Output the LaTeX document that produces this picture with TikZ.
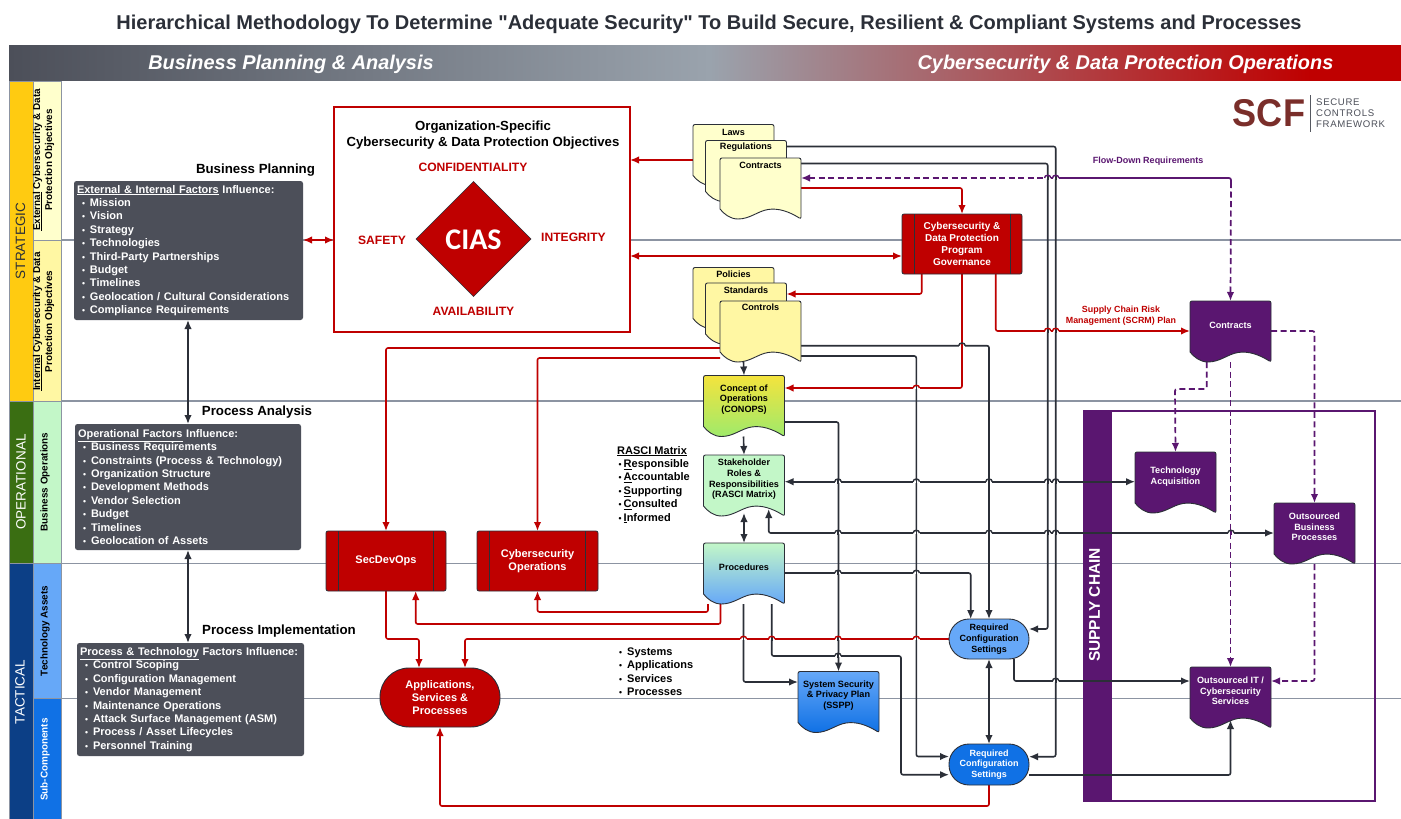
\documentclass[tikz,border=0pt]{standalone}
\usepackage{fontspec}
\setmainfont{Liberation Sans}
\newfontfamily\ciasfont{Carlito}
\usetikzlibrary{arrows.meta,shapes.geometric,calc}
\definecolor{cred}{HTML}{BF0000}
\definecolor{cdark}{HTML}{2B2F38}
\definecolor{cslate}{HTML}{4C4F59}
\definecolor{cpurple}{HTML}{5A1670}
\definecolor{cgrid}{HTML}{8C94A2}
\definecolor{cmid}{HTML}{9AA3AD}
\definecolor{cstrat}{HTML}{FFCB11}
\definecolor{coper}{HTML}{3A6E12}
\definecolor{ctact}{HTML}{0C3F86}
\definecolor{cy1}{HTML}{FFFFCC}
\definecolor{cy2}{HTML}{FFF7A3}
\definecolor{cg1}{HTML}{C3F7C8}
\definecolor{cb1}{HTML}{66A8F8}
\definecolor{cb2}{HTML}{1071E5}
\definecolor{clogo}{HTML}{7A2E2A}
\definecolor{cyel}{HTML}{F4E33D}
\definecolor{cgrn}{HTML}{9FEA6B}
\pgfdeclarelayer{bg}\pgfdeclarelayer{conn}
\pgfsetlayers{bg,conn,main}
\newcommand{\fsz}[2]{\fontsize{#1}{#2}\selectfont}
\newcommand{\itm}[1]{\hspace*{5pt}\makebox[8pt][l]{\fontsize{8.5}{7}\selectfont •}#1}
\newcommand{\bu}[1]{\makebox[#1pt][l]{\fontsize{8.5}{7}\selectfont •}}
\newcommand{\sq}{\XeTeXglyph\XeTeXcharglyph"22 }
\newcommand{\docshape}[6]{%
  \begin{scope}[shift={(#2,#3)}]
    \path[draw=cdark,line width=.9pt,#4,rounded corners=2pt] (0,51) -- (0,0) -- (81,0) -- (81,61)[sharp corners] .. controls (68,53) and (58,50) .. (48,51.5) .. controls (38,53) and (30,61) .. (18,61) .. controls (10,61) and (4,56) .. (0,51) -- cycle;
    \node[docanchor] (#1) at (40.5,30.5) {};
    \node[doctext] (#1-t) at (40.5,#5) {#6};
  \end{scope}}
\newcommand{\procbox}[6]{%
  \node[procnode,minimum width=#4pt] (#1) at (#2,#3) {#5};
  \draw[cdark,line width=1pt] ([xshift=#6pt]#1.north west) -- ([xshift=#6pt]#1.south west);
  \draw[cdark,line width=1pt] ([xshift=-#6pt]#1.north east) -- ([xshift=-#6pt]#1.south east);}
\newcommand{\hop}[4]{%
  \draw[white,line width=2.4pt] (#1-3.2,#2) -- (#1+3.2,#2);
  \draw[#4,line width=1.6pt] (#1,#2-2) -- (#1,#2+2);
  \draw[#3,line width=1.4pt] (#1-3.2,#2) .. controls (#1-3.2,#2-3.6) and (#1+3.2,#2-3.6) .. (#1+3.2,#2);}
\tikzset{
  >={Latex[length=9pt,width=7.5pt]},
  docanchor/.style={inner sep=0pt,outer sep=0pt,minimum width=81pt,minimum height=61pt},
  doctext/.style={inner sep=0pt,align=center,font=\bfseries\fsz{9.1}{10.7}},
  procnode/.style={draw=cdark,line width=.8pt,fill=cred,rounded corners=2pt,minimum height=60pt,inner sep=0pt,outer sep=0pt,align=center,text=white,font=\bfseries\fsz{11}{13.4}},
  termnode/.style={draw=cdark,line width=.9pt,inner sep=0pt,outer sep=0pt,align=center,font=\bfseries\fsz{9}{10.7}},
  factor/.style={draw=none,fill=cslate,rounded corners=2.5pt,inner sep=0pt,outer sep=0pt,text=white,align=left,font=\bfseries\fsz{11}{13.4}},
  band/.style={draw=cgrid,line width=.7pt},
  bandtext/.style={rotate=90,inner sep=0pt,align=center},
  rl/.style={cred,line width=1.6pt,rounded corners=2pt},
  dl/.style={cdark,line width=1.6pt,rounded corners=2pt},
  pl/.style={cpurple,line width=1.7pt,rounded corners=2pt},
  pd/.style={pl,dash pattern=on 6pt off 3.5pt},
  gridline/.style={cgrid,line width=1.2pt},
  lab/.style={inner sep=0pt,font=\bfseries\fsz{13.3}{15}},
  redlab/.style={inner sep=0pt,text=cred,font=\bfseries\fsz{12.1}{14}},
}
\begin{document}
\begin{tikzpicture}[x=1pt,y=-1pt]
\useasboundingbox (0,0) rectangle (1401,819);
\node[inner sep=0pt,text=cdark,font=\bfseries\fsz{20}{22}] (title) at (709,24) {Hierarchical Methodology To Determine \sq Adequate Security\sq{} To Build Secure, Resilient \& Compliant Systems and Processes};

\begin{pgfonlayer}{bg}
\fill[white] (0,0) rectangle (1401,819);
% header
\shade[left color=cslate,right color=cmid] (9,45) rectangle (710,80.5);
\shade[left color=cmid,right color=cred] (709.5,45) rectangle (1310,80.5);
\fill[cred] (1309.5,45) rectangle (1401,80.5);
% grid
\draw[gridline] (61,240) -- (1401,240);
\draw[gridline] (61,401) -- (1401,401);
\draw[gridline,line width=1pt] (61,563) -- (1401,563);
\draw[gridline,line width=1pt] (61,698.5) -- (1401,698.5);
% bands
\filldraw[band,fill=cstrat] (9,81) rectangle (33,401);
\filldraw[band,fill=cy1] (33,81) rectangle (61,240);
\filldraw[band,fill=cy2] (33,240) rectangle (61,401);
\filldraw[band,fill=coper] (9,401) rectangle (33,563);
\filldraw[band,fill=cg1] (33,401) rectangle (61,563);
\filldraw[band,fill=ctact] (9,563) rectangle (33,819.5);
\filldraw[band,fill=cb1] (33,563) rectangle (61,698.5);
\filldraw[band,fill=cb2] (33,698.5) rectangle (61,819.5);
% supply chain frame
\fill[cpurple] (1084,411) rectangle (1112,801);
\draw[cpurple,line width=2pt] (1084,411) rectangle (1375,801);
\end{pgfonlayer}

% header text
\node[inner sep=0pt,text=white,font=\bfseries\itshape\fsz{19.9}{22}] (hdrL) at (291,64) {Business Planning \& Analysis};
\node[inner sep=0pt,text=white,font=\bfseries\itshape\fsz{19.9}{22}] (hdrR) at (1125.5,64) {Cybersecurity \& Data Protection Operations};

% band text
\node[bandtext,text=cdark,font=\fsz{13.5}{16}] (tStrat) at (20.5,241) {STRATEGIC};
\node[bandtext,text=white,font=\fsz{13.5}{16}] (tOper) at (21,482) {OPERATIONAL};
\node[bandtext,text=white,font=\fsz{13.5}{16}] (tTact) at (20,692) {TACTICAL};
\node[bandtext,font=\bfseries\fsz{9.9}{12}] (tExt) at (43.5,160) {\underline{External} Cybersecurity \& Data\\Protection Objectives};
\node[bandtext,font=\bfseries\fsz{9.9}{12}] (tInt) at (43.5,321.5) {\underline{Internal} Cybersecurity \& Data\\Protection Objectives};
\node[bandtext,font=\bfseries\fsz{9.9}{12}] (tBus) at (45,482) {Business Operations};
\node[bandtext,font=\bfseries\fsz{9.9}{12}] (tTec) at (45,631) {Technology Assets};
\node[bandtext,text=white,font=\bfseries\fsz{9.9}{12}] (tSub) at (45,759.5) {Sub-Components};

% section titles
\node[lab] (lBP) at (255.5,170) {Business Planning};
\node[lab] (lPA) at (257,412.5) {Process Analysis};
\node[lab] (lPI) at (279,631.5) {Process Implementation};

% factor boxes
\node[factor,minimum width=229pt,minimum height=139pt,text width=223pt] (f1) at (188.5,250.5) {%
\underline{External \& Internal Factors} Influence:\\\itm{Mission}\\\itm{Vision}\\\itm{Strategy}\\\itm{Technologies}\\\itm{Third-Party Partnerships}\\\itm{Budget}\\\itm{Timelines}\\\itm{Geolocation / Cultural Considerations}\\\itm{Compliance Requirements}};
\node[factor,minimum width=226pt,minimum height=126pt,text width=220pt] (f2) at (188,487) {%
\underline{Operational Factors} Influence:\\\itm{Business Requirements}\\\itm{Constraints (Process \& Technology)}\\\itm{Organization Structure}\\\itm{Development Methods}\\\itm{Vendor Selection}\\\itm{Budget}\\\itm{Timelines}\\\itm{Geolocation of Assets}};
\node[factor,minimum width=227pt,minimum height=113pt,text width=221pt] (f3) at (190.5,699.5) {%
\underline{Process \& Technology} Factors Influence:\\\itm{Control Scoping}\\\itm{Configuration Management}\\\itm{Vendor Management}\\\itm{Maintenance Operations}\\\itm{Attack Surface Management (ASM)}\\\itm{Process / Asset Lifecycles}\\\itm{Personnel Training}};

% objectives
\node[draw=cred,line width=2pt,fill=white,minimum width=296pt,minimum height=225pt,inner sep=0pt,outer sep=0pt] (obj) at (482,219.5) {};
\node[inner sep=0pt,align=center,font=\bfseries\fsz{13.2}{16}] (objT) at (483,135.5) {Organization-Specific\\Cybersecurity \& Data Protection Objectives};
\node[draw=cdark,line width=.6pt,fill=cred,diamond,aspect=1,minimum width=115pt,minimum height=115pt,inner sep=0pt,outer sep=0pt] (cias) at (473.5,239) {};
\node[inner sep=0pt,text=white,font=\ciasfont\bfseries\fsz{30}{30}] (ciasT) at (473.5,239.5) {CIAS};
\node[redlab] (rC) at (473,167.5) {CONFIDENTIALITY};
\node[redlab] (rS) at (382,240) {SAFETY};
\node[redlab] (rI) at (573.5,237) {INTEGRITY};
\node[redlab] (rA) at (473.5,311) {AVAILABILITY};

% documents
\docshape{laws}{693}{124.5}{fill=cy1}{7.5}{Laws}
\docshape{regs}{705.5}{140.5}{fill=cy1}{7}{Regulations}
\docshape{cont}{720}{158}{fill=cy1}{7}{Contracts}
\docshape{poli}{693}{267.5}{fill=cy2}{7}{Policies}
\docshape{stan}{705.5}{283}{fill=cy2}{7}{Standards}
\docshape{ctrl}{720}{301}{fill=cy2}{6.5}{Controls}
\docshape{conops}{703.5}{375.5}{top color=cyel,bottom color=cgrn}{24}{Concept of\\Operations\\(CONOPS)}
\docshape{rasci}{703.5}{455}{fill=cg1}{24.5}{Stakeholder\\Roles \&\\Responsibilities\\(RASCI Matrix)}
\docshape{proc}{703.5}{543}{top color=cg1,middle color=cg1,bottom color=cb1}{24}{Procedures}
\docshape{sspp}{798}{671.5}{top color=cb1,bottom color=cb2}{24}{System Security\\\&{} Privacy Plan\\(SSPP)}
\docshape{pcont}{1190}{301}{fill=cpurple}{24}{\textcolor{white}{Contracts}}
\docshape{tacq}{1135}{452}{fill=cpurple}{24.5}{\textcolor{white}{Technology}\\\textcolor{white}{Acquisition}}
\docshape{obp}{1274}{503}{fill=cpurple}{24}{\textcolor{white}{Outsourced}\\\textcolor{white}{Business}\\\textcolor{white}{Processes}}
\docshape{oit}{1190}{667}{fill=cpurple}{24}{\textcolor{white}{Outsourced IT /}\\\textcolor{white}{Cybersecurity}\\\textcolor{white}{Services}}

% process boxes
\begin{scope}[procnode/.append style={font=\bfseries\fsz{10}{12}}]
\procbox{gov}{962}{244}{120}{Cybersecurity \&\\Data Protection\\Program\\Governance}{12}
\end{scope}
\procbox{sec}{386}{561}{120}{SecDevOps}{12.5}
\procbox{cop}{537.5}{561}{121}{Cybersecurity\\Operations}{12.5}

% terminators
\node[termnode,fill=cb1,rounded corners=20pt,minimum width=80pt,minimum height=40pt] (rc1) at (989,639) {Required\\Configuration\\Settings};
\node[termnode,fill=cb2,text=white,rounded corners=20pt,minimum width=80pt,minimum height=41pt] (rc2) at (989,764.5) {Required\\Configuration\\Settings};
\node[termnode,fill=cred,text=white,rounded corners=29pt,minimum width=120pt,minimum height=59pt,font=\bfseries\fsz{11}{13.4}] (apps) at (440,697.5) {Applications,\\Services \&\\Processes};

% free labels
\node[inner sep=0pt,align=left,anchor=north west,font=\bfseries\fsz{11}{13.4}] (rasciL) at (617,446) {\underline{RASCI Matrix}\\\hspace*{1.5pt}\bu{5}\underline{R}esponsible\\\hspace*{1.5pt}\bu{5}\underline{A}ccountable\\\hspace*{1.5pt}\bu{5}\underline{S}upporting\\\hspace*{1.5pt}\bu{5}\underline{C}onsulted\\\hspace*{1.5pt}\bu{5}\underline{I}nformed};
\node[inner sep=0pt,align=left,anchor=north west,font=\bfseries\fsz{11}{13.4}] (sysL) at (619,647.5) {\bu{8}Systems\\\bu{8}Applications\\\bu{8}Services\\\bu{8}Processes};
\node[inner sep=0pt,text=cpurple,font=\bfseries\fsz{9}{11}] (flow) at (1148,161) {Flow-Down Requirements};
\node[inner sep=0pt,text=cred,align=center,font=\bfseries\fsz{8.9}{10.7}] (scrm) at (1121,316) {Supply Chain Risk\\Management (SCRM) Plan};
\node[inner sep=0pt,rotate=90,text=white,font=\bfseries\fsz{15.5}{18}] (sc) at (1094.5,605) {SUPPLY CHAIN};

% logo
\node[inner sep=0pt,text=clogo,font=\bfseries\fsz{43}{43}] (scfL) at (1269,113.5) {\scalebox{0.84}[0.9]{SCF}};
\fill[cdark!80!white] (1309.6,95) rectangle (1311,132);
\node[inner sep=0pt,anchor=north west,align=left,text=cslate,font=\fsz{9.6}{10.8}\addfontfeature{LetterSpace=7}] (scfR) at (1316,99) {SECURE\\CONTROLS\\FRAMEWORK};

% connectors
\begin{pgfonlayer}{conn}
% dark factor arrows
\draw[dl,<->] (f1.south -| 188,0) -- (f2.north -| 188,0);
\draw[dl,<->] (f2.south -| 188,0) -- (f3.north -| 188,0);
% red
\draw[rl,->] (laws.west |- 0,160) -- (obj.east |- 0,160);
\draw[rl,<->] (f1.east |- 0,240) -- (obj.west |- 0,240);
\draw[rl,<->] (obj.east |- 0,256) -- (gov.west |- 0,256);
\draw[rl,->] (cont.east |- 0,188) -| (gov.north);
\draw[rl,->] (gov.south -| 921.7,0) |- (stan.east |- 0,294);
\draw[rl,->] (gov.south) |- (conops.east |- 0,388);
\draw[rl,->] (gov.south -| 995.7,0) |- (pcont.west |- 0,331);
\draw[rl,->] (ctrl.west |- 0,348) -| (sec.north);
\draw[rl,->] (ctrl.west |- 0,358) -| (cop.north);
\draw[rl,->] (sec.south) |- (419,639) -- (apps.north -| 419,0);
\draw[rl,->] (rc1.west) -| (apps.north -| 465,0);
\draw[rl,->] (proc.south -| 708,0) |- (537.5,612) -- (cop.south);
\draw[rl,->] (proc.south -| 720.5,0) |- (415.7,624) -- (sec.south -| 415.7,0);
\draw[rl,->] (rc2.south) |- (440,806) -- (apps.south);
% dark
\draw[dl,->] (regs.east |- 0,146.5) -- (1055.7,146.5) |- (rc2.east |- 0,756.7);
\draw[dl,->] (cont.east |- 0,163.5) -- (1047.7,163.5) |- (rc1.east |- 0,629);
\draw[dl,->] (ctrl.east |- 0,345.7) -| (rc1.north);
\draw[dl,->] (ctrl.east |- 0,356) -- (916.3,356) |- (rc2.west |- 0,756.5);
\draw[dl,->] (ctrl.south -| 743.5,0) -- (conops.north);
\draw[dl,->] (conops.south -| 743.5,0) -- (rasci.north);
\draw[dl,->] (conops.east |- 0,422) -| (sspp.north);
\draw[dl,<->] ([yshift=3pt]rasci.south) -- (proc.north);
\draw[dl,<->] (rasci.east |- 0,481.7) -- (tacq.west |- 0,481.7);
\draw[dl,<->] (768.7,509) |- (obp.west |- 0,533);
\draw[dl,->] (proc.east |- 0,573) -- (970.7,573) -- (rc1.north -| 970.7,0);
\draw[dl,->] (proc.south -| 743.5,0) |- (sspp.west |- 0,682);
\draw[dl,->] (proc.south -| 771.7,0) |- (901,656) |- (rc2.west |- 0,774.7);
\draw[dl,->] (rc1.south -| 1014,0) |- (oit.west |- 0,681);
\draw[dl,<->] (rc1.south) -- (rc2.north);
\draw[dl,->] (rc2.east |- 0,775) -| ([yshift=8pt]oit.south);
% purple
\draw[pd,<-] (cont.east |- 0,178) -- (1047.7,178);
\draw[pl] (1047.7,178) -- (1231,178) -- (1231,182);
\draw[pd,->] (1231,182) -- (pcont.north);
\draw[pd,->] (pcont.south -| 1206.7,0) |- (1175,389) -- (tacq.north);
\draw[pd,->] (pcont.east |- 0,331) -| (obp.north);
\draw[pd,->] (pcont.south) -- (oit.north);
\draw[pd,->] (obp.south) |- (oit.east |- 0,681);
% line jumps
\foreach \xx in {838,916.3,989,1047.7,1055.7} {\hop{\xx}{481.7}{cdark}{cdark}\hop{\xx}{533}{cdark}{cdark}}
\hop{1231}{533}{cdark}{cpurple}
\hop{838}{573}{cdark}{cdark}\hop{916.3}{573}{cdark}{cdark}
\foreach \xx in {743.5,771.7,838,916.3} {\hop{\xx}{639}{cred}{cdark}}
\hop{838}{656}{cdark}{cdark}
\hop{1055.7}{681}{cdark}{cdark}
\hop{916.3}{388}{cred}{cdark}
\hop{1047.7}{331}{cred}{cdark}\hop{1055.7}{331}{cred}{cdark}
\hop{1047.7}{178}{cpurple}{cdark}\hop{1055.7}{178}{cpurple}{cdark}
\hop{962}{345.7}{cdark}{cred}
\end{pgfonlayer}
\end{tikzpicture}
\end{document}
